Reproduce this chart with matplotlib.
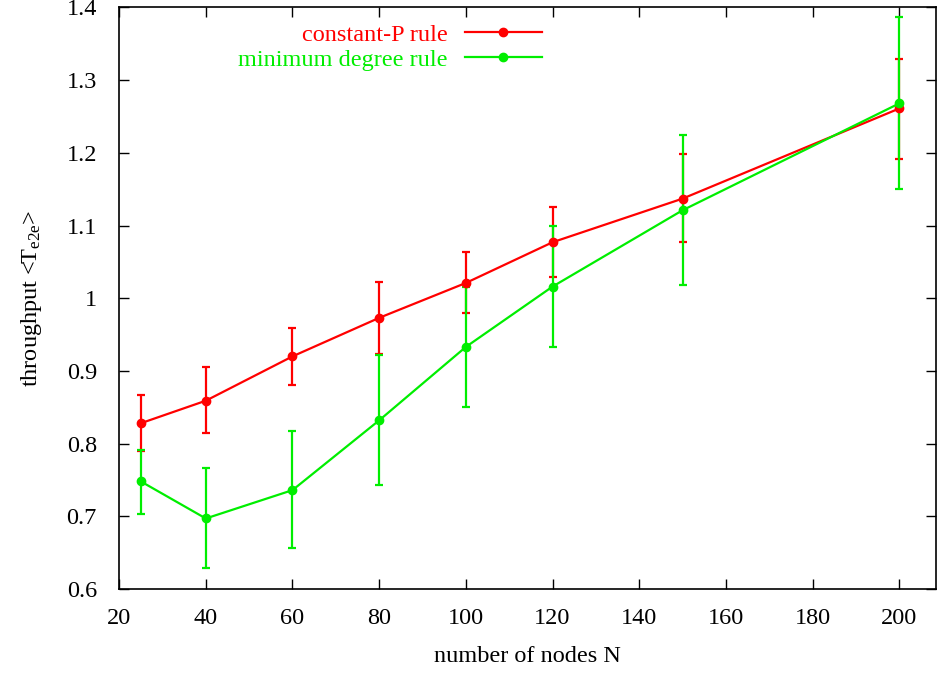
import matplotlib
matplotlib.use("Agg")
import matplotlib.pyplot as plt
from matplotlib.lines import Line2D
import numpy as np

plt.rcParams['font.family'] = ['Liberation Serif', 'DejaVu Serif']
plt.rcParams['mathtext.fontset'] = 'custom'
plt.rcParams['mathtext.rm'] = 'Liberation Serif'
plt.rcParams['mathtext.it'] = 'Liberation Serif:italic'

N = [25, 40, 60, 80, 100, 120, 150, 200]

constP_mean = [0.828, 0.859, 0.920, 0.973, 1.021, 1.077, 1.137, 1.261]
constP_low = [0.790, 0.814, 0.881, 0.923, 0.979, 1.029, 1.077, 1.192]
constP_high = [0.867, 0.906, 0.959, 1.022, 1.063, 1.125, 1.198, 1.329]

mindeg_mean = [0.748, 0.697, 0.736, 0.832, 0.933, 1.016, 1.121, 1.268]
mindeg_low = [0.703, 0.629, 0.657, 0.743, 0.851, 0.933, 1.018, 1.150]
mindeg_high = [0.791, 0.766, 0.817, 0.922, 1.016, 1.099, 1.225, 1.387]

xticks = [20, 40, 60, 80, 100, 120, 140, 160, 180, 200]
yticks = [0.6, 0.7, 0.8, 0.9, 1.0, 1.1, 1.2, 1.3, 1.4]
yticklabels = ['0.6', '0.7', '0.8', '0.9', '1', '1.1', '1.2', '1.3', '1.4']

RED = '#ff0000'
GREEN = '#00ee00'
FS = 17.5

fig = plt.figure(figsize=(9.38, 6.77), dpi=100)
ax = fig.add_axes([0.127, 0.130, 0.871, 0.859])

def err(mean, low, high):
    m = np.array(mean); return [m - np.array(low), np.array(high) - m]

ax.errorbar(N, constP_mean, yerr=err(constP_mean, constP_low, constP_high),
            color=RED, lw=1.6, marker='o', ms=6, capsize=3, elinewidth=1.6,
            capthick=1.6)
ax.errorbar(N, mindeg_mean, yerr=err(mindeg_mean, mindeg_low, mindeg_high),
            color=GREEN, lw=1.6, marker='o', ms=6, capsize=3, elinewidth=1.6,
            capthick=1.6)

ax.set_xlim(20, 208.5)
ax.set_ylim(0.6, 1.4)
ax.set_xticks(xticks)
ax.set_yticks(yticks)
ax.set_yticklabels(yticklabels)
ax.tick_params(direction='in', top=True, right=True, labelsize=FS, length=7, width=1)
ax.tick_params(axis='x', pad=14)
ax.tick_params(axis='y', pad=16)
for s in ax.spines.values():
    s.set_linewidth(1.2)

ax.set_xlabel('number of nodes N', fontsize=FS, labelpad=12)
ax.set_ylabel(r'throughput <T$_{\rm e2e}$>', fontsize=FS, labelpad=16)

handles = [Line2D([], [], color=RED, lw=1.6, marker='o', ms=6),
           Line2D([], [], color=GREEN, lw=1.6, marker='o', ms=6)]
leg = ax.legend(handles, ['constant-P rule', 'minimum degree rule'],
                loc='upper right', bbox_to_anchor=(0.518, 0.972), frameon=False,
                markerfirst=False, fontsize=FS, handlelength=3.2, labelspacing=0.12,
                borderaxespad=0.0, borderpad=0.0, handletextpad=0.7)
for t, c in zip(leg.get_texts(), [RED, GREEN]):
    t.set_color(c)

fig.savefig('out.png', dpi=100)
